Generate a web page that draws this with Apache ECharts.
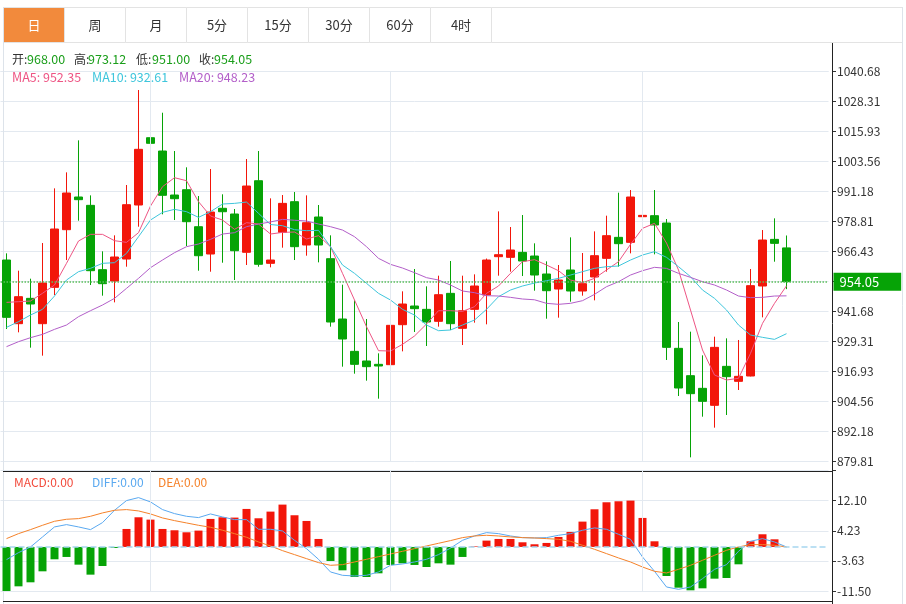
<!DOCTYPE html>
<html><head><meta charset="utf-8">
<script src="https://cdn.jsdelivr.net/npm/echarts@6/dist/echarts.min.js"></script>
<style>html,body{margin:0;padding:0;background:#fff}#c{width:906px;height:604px}</style>
</head><body><div id="c"></div>
<script>
const categories = Array.from({length: 69}, (_, i) => 'D' + (i + 1));
const opens  = [963.00,936.74,947.19,936.74,951.73,975.51,988.99,985.55,959.02,954.34,963.41,985.69,1013.45,1007.96,989.81,992.00,976.74,965.48,984.33,981.98,966.18,995.71,961.63,974.41,987.06,969.19,980.74,963.55,938.67,925.33,921.35,919.97,919.83,936.33,944.03,942.65,937.71,949.25,934.82,942.65,948.57,964.38,964.10,966.16,964.65,957.23,951.04,958.88,950.22,955.99,963.69,972.35,970.29,980.87,981.29,978.26,926.57,915.29,910.07,903.06,919.14,912.96,915.16,952.28,971.52,968.00];
const closes = [939.36,947.88,944.86,953.52,975.79,990.64,987.89,958.60,953.24,964.24,985.82,1008.66,1011.14,989.69,988.29,978.81,964.78,982.80,982.92,966.84,993.52,961.23,963.00,986.37,968.50,978.40,969.19,937.43,930.42,919.97,919.01,919.28,936.06,944.85,942.93,937.43,948.70,936.74,942.10,952.28,963.00,965.20,967.13,962.59,956.81,950.35,954.75,950.22,953.24,964.79,973.04,969.74,988.99,981.42,977.44,926.98,910.21,907.87,904.71,926.98,914.88,915.02,952.42,971.25,969.87,954.05];
const lows   = [934.54,933.17,926.85,923.55,948.57,963.00,979.22,952.69,948.29,945.54,960.25,976.74,981.85,981.85,979.50,968.78,958.59,958.18,961.89,954.75,960.94,960.24,959.98,968.09,963.00,964.79,962.04,935.51,919.01,916.12,913.23,905.81,918.46,925.33,933.31,927.53,935.51,934.13,927.94,937.16,936.47,956.54,958.19,956.40,950.35,938.80,939.22,945.82,948.29,946.37,958.19,960.25,965.75,978.81,965.34,921.76,906.91,881.61,898.38,893.85,899.07,909.38,915.00,939.35,962.31,951.00];
const highs  = [965.75,958.60,955.30,970.01,992.56,999.16,1012.36,989.67,966.58,973.18,993.94,1033.12,1031.06,1023.76,1007.96,1001.24,989.40,1000.54,990.10,984.04,1004.66,1007.96,988.44,989.81,991.05,989.67,985.69,973.18,952.83,946.37,938.67,924.51,953.65,950.08,959.29,952.14,956.54,962.59,956.54,957.09,963.60,983.07,976.61,981.56,969.88,962.45,960.94,972.35,965.89,974.82,981.29,990.77,991.87,996.00,991.87,979.91,937.43,933.44,923.68,931.38,930.69,930.01,959.29,975.37,980.19,973.12];
const ma5  = [945.54,945.81,946.09,949.27,952.69,961.63,970.84,973.59,973.59,970.97,970.29,974.27,985.27,993.25,996.96,995.72,987.06,981.15,979.50,975.65,978.40,977.85,973.72,974.41,974.55,971.66,973.04,968.50,957.50,946.50,935.50,925.60,925.47,928.22,931.66,936.60,942.10,942.10,941.83,943.75,949.25,952.28,957.50,962.31,963.14,960.94,958.60,954.75,953.65,955.44,958.88,962.31,969.46,976.06,978.13,970.00,958.88,942.38,925.88,915.57,913.51,914.20,924.51,936.88,945.13,952.35];
const ma10 = [935.23,937.57,940.31,942.66,948.15,954.75,958.19,959.57,961.63,961.90,965.75,972.62,979.50,982.66,983.90,982.94,980.60,982.94,986.10,986.37,986.92,982.25,977.65,977.16,975.50,975.10,975.24,968.50,960.94,957.50,953.38,949.25,946.50,942.66,940.31,936.19,933.85,934.13,936.19,938.25,942.66,947.88,950.63,952.28,953.50,954.48,955.44,956.81,958.19,959.57,960.25,960.53,963.00,965.06,966.44,964.10,960.25,956.13,950.63,947.19,942.38,936.19,932.07,931.11,930.28,932.61];
const ma20 = [927.26,929.32,930.97,932.34,934.40,936.19,939.63,942.10,944.44,947.19,951.31,955.44,959.84,963.00,966.03,968.50,969.60,971.52,973.72,974.27,976.75,977.85,978.70,979.77,979.40,979.09,977.85,976.75,975.37,972.62,968.50,963.69,961.21,959.70,957.78,955.72,954.75,952.69,950.22,949.53,948.29,948.15,947.60,946.92,946.60,945.13,944.72,945.13,946.23,948.84,952.00,954.06,956.81,958.60,959.98,959.56,957.50,955.85,954.06,952.69,950.63,948.15,947.47,947.60,948.15,948.23];
const macd = [-11.50,-10.28,-9.23,-6.36,-3.22,-2.61,-4.62,-7.23,-4.97,-0.26,4.70,7.75,7.14,4.70,4.36,3.83,4.27,7.32,7.75,7.67,9.93,7.49,9.23,11.06,8.28,6.79,2.09,-3.66,-6.10,-7.84,-7.84,-6.88,-4.70,-4.27,-4.70,-5.23,-4.27,-4.62,-2.61,0.15,1.66,2.09,2.09,1.22,0.70,1.05,2.61,3.92,6.62,9.84,11.67,11.93,12.11,7.58,1.48,-7.58,-10.63,-11.32,-10.80,-8.28,-8.10,-4.53,1.48,3.31,2.00,0.00];
const diff = [-3.31,-1.48,0.00,2.61,5.23,5.84,5.23,4.53,6.36,9.58,12.11,12.89,11.76,9.76,8.71,8.01,7.67,8.62,7.84,7.14,7.14,4.62,4.62,4.18,1.74,-0.44,-3.22,-6.53,-7.40,-7.58,-7.40,-6.53,-4.79,-4.44,-3.92,-3.22,-2.00,-0.30,1.74,2.87,3.75,3.48,2.87,2.44,2.35,2.44,3.05,3.48,4.36,4.97,4.62,3.31,2.00,-2.61,-6.36,-10.45,-11.06,-10.45,-8.28,-5.84,-4.62,-1.13,1.48,2.18,1.31,0.00];
const dea  = [2.18,3.48,4.53,5.66,6.71,7.23,7.40,8.01,8.89,9.58,9.76,9.41,8.62,7.58,6.88,6.27,5.66,5.14,4.36,3.48,2.53,1.31,0.26,-0.96,-2.00,-3.05,-4.09,-4.79,-4.62,-3.92,-3.22,-2.53,-1.83,-1.13,-0.44,0.26,0.96,1.66,2.44,2.87,3.05,2.87,2.61,2.44,2.35,2.18,2.00,1.48,0.44,-0.61,-1.74,-2.87,-3.92,-5.23,-6.36,-6.79,-5.84,-4.79,-3.48,-2.18,-0.87,0.00,0.61,0.61,0.44,0.00];
const priceTicks = ['879.81','892.18','904.56','916.93','929.31','941.68','954.05','966.43','978.81','991.18','1003.56','1015.93','1028.31','1040.68'];
const macdTicks = ['-11.50','-3.63','4.23','12.10'];
const tabs = ['日','周','月','5分','15分','30分','60分','4时'];
const monthStarts = [12, 32, 53];

const UP = '#f2160a', DOWN = '#06a306';
const FONT = "'Microsoft YaHei','Noto Sans CJK SC',sans-serif";
const last = opens.length - 1;
const pMin = Number(priceTicks[0]);
const pStep = (Number(priceTicks[priceTicks.length-1]) - pMin) / (priceTicks.length - 1);
const mMin = Number(macdTicks[0]);
const mStep = (Number(macdTicks[macdTicks.length-1]) - mMin) / (macdTicks.length - 1);

const chart = echarts.init(document.getElementById('c'), null, {renderer: 'canvas'});

const g = [];
tabs.forEach((t, i) => {
  const x = 3.5 + i * 61;
  g.push({type: 'rect', shape: {x: x, y: 7.5, width: 61, height: 35}, style: {fill: i === 0 ? '#f28a3c' : '#fff', stroke: '#e3e3e3', lineWidth: 1}, z: 1});
  g.push({type: 'text', x: x + 30.5, y: 25, style: {text: t, fill: i === 0 ? '#fff' : '#333', font: '13px ' + FONT, align: 'center', verticalAlign: 'middle'}, z: 2});
});
g.push({type: 'line', shape: {x1: 491.5, y1: 7.5, x2: 902.5, y2: 7.5}, style: {stroke: '#e3e3e3', lineWidth: 1}, z: 1});
g.push({type: 'line', shape: {x1: 491.5, y1: 42.5, x2: 902.5, y2: 42.5}, style: {stroke: '#e3e3e3', lineWidth: 1}, z: 1});
g.push({type: 'line', shape: {x1: 3.5, y1: 7, x2: 3.5, y2: 604}, style: {stroke: '#dde3ea', lineWidth: 1}, z: 1});
g.push({type: 'line', shape: {x1: 902.5, y1: 7, x2: 902.5, y2: 604}, style: {stroke: '#dde3ea', lineWidth: 1}, z: 1});
g.push({type: 'line', shape: {x1: 3, y1: 471.5, x2: 833, y2: 471.5}, style: {stroke: '#222', lineWidth: 1}, z: 5});
g.push({type: 'line', shape: {x1: 3, y1: 601.5, x2: 833, y2: 601.5}, style: {stroke: '#222', lineWidth: 1}, z: 5});
g.push({type: 'line', shape: {x1: 832.5, y1: 43, x2: 832.5, y2: 604}, style: {stroke: '#222', lineWidth: 1}, z: 5});
const ohlc = [['开:', opens[last]], ['高:', highs[last]], ['低:', lows[last]], ['收:', closes[last]]];
const lx = [[12, 27], [74, 88], [136, 152], [199, 214]];
const valColor = closes[last] >= opens[last] ? UP : '#1a9e1a';
ohlc.forEach((p, i) => {
  g.push({type: 'text', x: lx[i][0], y: 59, style: {text: p[0], fill: '#333', font: '12px ' + FONT, verticalAlign: 'middle'}, z: 6});
  g.push({type: 'text', x: lx[i][1], y: 59, style: {text: p[1].toFixed(2), fill: valColor, font: '12.5px ' + FONT, verticalAlign: 'middle'}, z: 6});
});
const maInfo = [['MA5: ', ma5[last], '#ee5584', 12], ['MA10: ', ma10[last], '#3fc6dc', 92], ['MA20: ', ma20[last], '#b35fc9', 179]];
maInfo.forEach(m => g.push({type: 'text', x: m[3], y: 77, style: {text: m[0] + m[1].toFixed(2), fill: m[2], font: '12.5px ' + FONT, verticalAlign: 'middle'}, z: 6}));
const macdInfo = [['MACD:', macd[last], '#f24b3c', 14], ['DIFF:', diff[last], '#5aa9f0', 92], ['DEA:', dea[last], '#f5822a', 158]];
macdInfo.forEach(m => g.push({type: 'text', x: m[3], y: 482, style: {text: m[0] + m[1].toFixed(2), fill: m[2], font: '12px ' + FONT, verticalAlign: 'middle'}, z: 6}));

const vLines = monthStarts.map(i => ({xAxis: categories[i]}));

const option = {
  animation: false,
  backgroundColor: '#fff',
  grid: [
    {left: 0.5, top: 71.7, width: 828, height: 390},
    {left: 0.5, top: 470.5, width: 828, height: 120.5}
  ],
  xAxis: [
    {type: 'category', gridIndex: 0, data: categories, boundaryGap: true, axisLine: {show: false}, axisTick: {show: false}, axisLabel: {show: false}, splitLine: {show: false}},
    {type: 'category', gridIndex: 1, data: categories, boundaryGap: true, axisLine: {show: false}, axisTick: {show: false}, axisLabel: {show: false}, splitLine: {show: false}}
  ],
  yAxis: [
    {type: 'value', gridIndex: 0, position: 'right', offset: 3.5, min: pMin, max: pMin + pStep * (priceTicks.length - 1), interval: pStep,
     axisLine: {show: false}, axisTick: {show: true, length: 4, lineStyle: {color: '#333'}},
     axisLabel: {margin: 5, color: '#333', fontSize: 12, fontFamily: FONT, formatter: v => priceTicks[Math.round((v - pMin) / pStep)] || ''},
     splitLine: {show: true, lineStyle: {color: '#e3e9f0', width: 1}}},
    {type: 'value', gridIndex: 1, position: 'right', offset: 3.5, min: mMin, max: mMin + mStep * macdTicks.length, interval: mStep,
     axisLine: {show: false}, axisTick: {show: true, length: 4, lineStyle: {color: '#333'}},
     axisLabel: {margin: 5, color: '#333', fontSize: 12, fontFamily: FONT, formatter: v => macdTicks[Math.round((v - mMin) / mStep)] || ''},
     splitLine: {show: true, lineStyle: {color: '#e3e9f0', width: 1}}}
  ],
  graphic: g,
  series: [
    {type: 'candlestick', xAxisIndex: 0, yAxisIndex: 0, barWidth: 9, clip: false,
     data: opens.map((o, i) => [o, closes[i], lows[i], highs[i]]),
     itemStyle: {color: UP, color0: DOWN, borderColor: UP, borderColor0: DOWN, borderWidth: 1},
     markLine: {silent: true, symbol: 'none', animation: false,
       data: vLines.map(d => Object.assign({lineStyle: {color: '#e3e9f0', type: 'solid', width: 1}, label: {show: false}}, d)).concat([
         {yAxis: closes[last], lineStyle: {color: '#5cc05c', type: 'dotted', width: 1.5},
          label: {show: true, position: 'end', distance: 5, formatter: p => Number(p.value).toFixed(2), color: '#fff', backgroundColor: '#06a306', fontSize: 13, fontFamily: FONT, padding: [3, 22, 2, 6]}}
       ])}
    },
    {type: 'line', name: 'MA5', data: ma5, symbol: 'none', lineStyle: {width: 1, color: '#ee5584'}, z: 3},
    {type: 'line', name: 'MA10', data: ma10, symbol: 'none', lineStyle: {width: 1, color: '#3fc6dc'}, z: 3},
    {type: 'line', name: 'MA20', data: ma20, symbol: 'none', lineStyle: {width: 1, color: '#b35fc9'}, z: 3},
    {type: 'bar', xAxisIndex: 1, yAxisIndex: 1, data: macd, barWidth: 8,
     itemStyle: {color: p => p.value >= 0 ? UP : DOWN},
     markLine: {silent: true, symbol: 'none', animation: false,
       data: vLines.map(d => Object.assign({lineStyle: {color: '#e3e9f0', type: 'solid', width: 1}, label: {show: false}}, d)).concat([
         {yAxis: 0, lineStyle: {color: '#a6d6f0', type: 'dashed', width: 1.5}, label: {show: false}}])}
    },
    {type: 'line', xAxisIndex: 1, yAxisIndex: 1, data: diff, symbol: 'none', lineStyle: {width: 1, color: '#5aa9f0'}, z: 3},
    {type: 'line', xAxisIndex: 1, yAxisIndex: 1, data: dea, symbol: 'none', lineStyle: {width: 1, color: '#f5822a'}, z: 3}
  ]
};
chart.setOption(option);
</script>
</body></html>
